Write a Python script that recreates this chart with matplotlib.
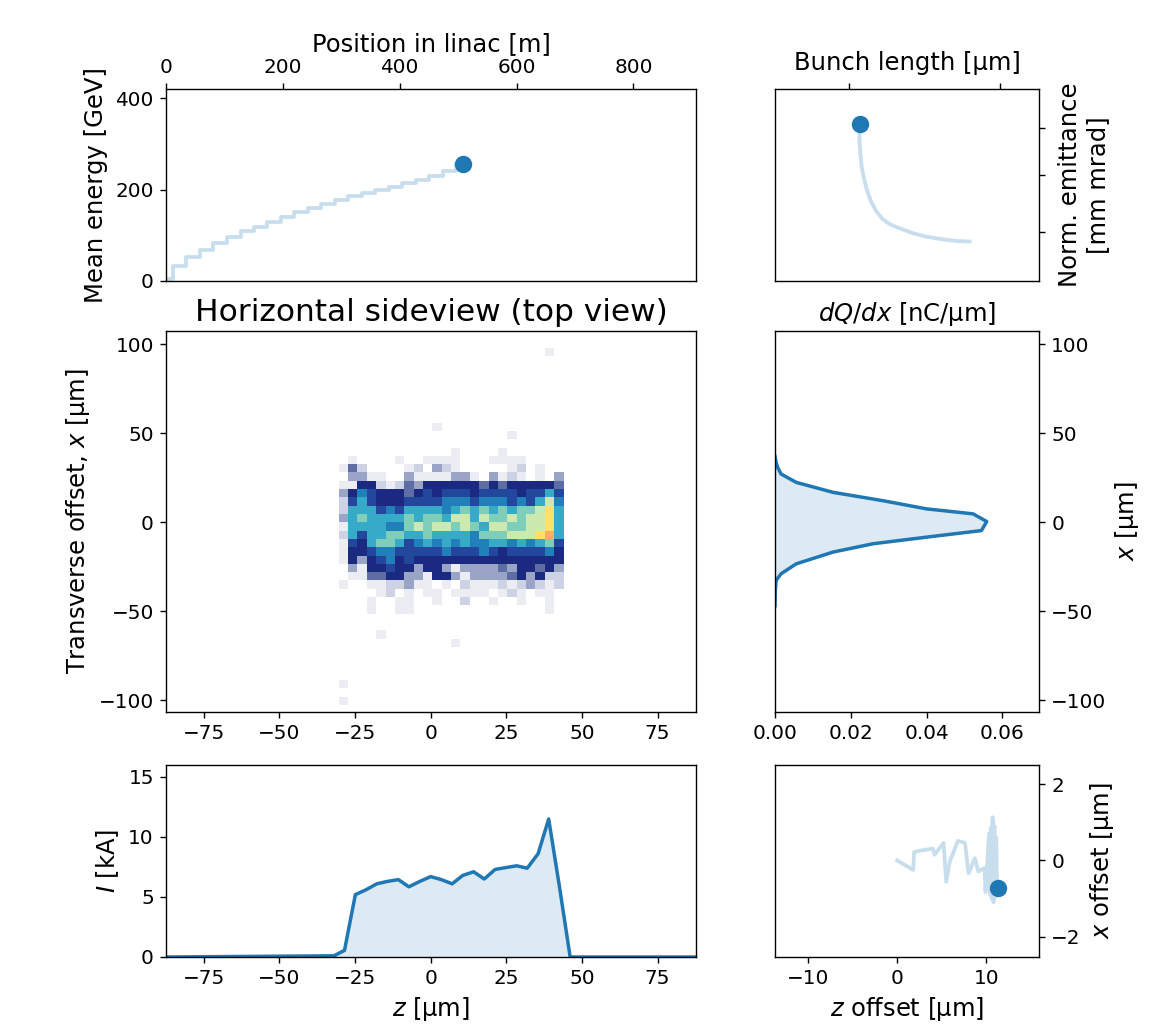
import numpy as np
import matplotlib.pyplot as plt
from matplotlib.colors import LinearSegmentedColormap
from matplotlib.ticker import NullFormatter, NullLocator

# energy gain along the linac (stage boundaries)
linac_pos = [0, 23, 46, 69, 92, 116, 139, 162, 185, 208, 231, 254, 277, 300,
             324, 347, 370, 393, 416, 439, 462, 485, 509]
mean_energy = [5, 32, 52, 68, 84, 97, 109, 119, 130, 140, 150, 160, 169, 177,
               186, 193, 199, 206, 214, 222, 230, 240, 257]

# bunch length vs emittance history
bunch_length = [18.0, 17.0, 16.0, 15.0, 14.2, 13.4, 12.7, 12.2, 11.8, 11.45, 11.2,
                11.0, 10.85, 10.75, 10.7, 10.7, 10.73]
emittance = [3.86, 3.87, 3.90, 3.94, 3.99, 4.06, 4.13, 4.22, 4.35, 4.52, 4.71,
             4.93, 5.16, 5.45, 5.73, 5.95, 6.10]

# centroid offset history
z_offset = [0.0, 1.8, 1.9, 2.7, 4.0, 4.2, 5.2, 5.5, 5.9, 6.8, 7.6, 8.0, 8.7, 9.1,
            9.8, 9.9, 10.3, 10.4, 10.5, 10.6, 10.7, 10.8, 10.9, 11.0, 11.1, 11.2, 11.3]
x_offset = [0.0, -0.25, 0.22, 0.26, 0.31, 0.15, 0.46, -0.56, -0.03, 0.51, 0.46, -0.34,
            0.06, -0.29, -0.2, -0.83, 0.7, -0.9, 0.86, -1.0, 1.13, -1.1, 0.9, -0.95,
            0.6, -0.9, -0.72]

# current profile
z_cur = [-87.5, -32.0, -28.5, -24.9, -21.4, -17.8, -14.3, -10.7, -7.2, -3.6, 0.0, 3.5,
         7.1, 10.6, 14.2, 17.7, 21.3, 24.8, 28.4, 31.9, 35.5, 39.0, 42.6, 46.1, 87.5]
current_kA = [0.0, 0.1, 0.55, 5.2, 5.6, 6.1, 6.3, 6.45, 5.85, 6.3, 6.7, 6.45,
              6.1, 6.8, 7.1, 6.5, 7.3, 7.45, 7.6, 7.4, 8.6, 11.5, 5.8, 0.0, 0.0]

# transverse charge profile
x_prof = [37.0, 33.5, 30.8, 27.1, 22.4, 16.8, 12.1, 7.5, 4.7, 0.4, -4.7, -8.4,
          -12.1, -16.8, -23.4, -29.0, -32.7, -38.0, -47.0]
dQdx = [0.0, 0.0003, 0.0007, 0.0016, 0.0056, 0.0153, 0.0285, 0.040, 0.0523,
        0.0559, 0.0545, 0.040, 0.0259, 0.0153, 0.0056, 0.0016, 0.0003, 0.0001, 0.0]

# side-view histogram, rows from x = +42 um down to x = -51 um (levels 0..C)
hist_rows = [
    "000000000000100001000000",
    "010000100111100011110000",
    "142000012032100000120100",
    "033110031111331031210103",
    "115521243555555454555554",
    "357655545656665666656686",
    "2686555666677767776768A7",
    "288867688887898989899AB8",
    "389888898998AA8A99A9AAB8",
    "18888779A9AA9A98AA99AAB8",
    "286889988988887999AAABC8",
    "165899867878787788787896",
    "155677666667666765666675",
    "153567565555555555555555",
    "031556553553133334355453",
    "011445533155313333453522",
    "100112231101021112123212",
    "000012010110111101210110",
    "000100110010020010010010",
    "000100110000000000000010",
]
outlier_z = [38.4, 3.2, 28.0, -18.0, 7.0, -29.0, -29.0]
outlier_x = [96.0, 52.0, 48.0, -65.0, -70.0, -92.0, -100.0]

z_edges = np.linspace(-30.4, 43.9, 25)
x_edges = 98.0 - 4.67 * np.arange(44)
counts = np.zeros((43, 24))
for i, row in enumerate(hist_rows):
    counts[12 + i] = [int(c, 16) for c in row]
for zz, xx in zip(outlier_z, outlier_x):
    r = int((98.0 - xx) / 4.67)
    c = int((zz - z_edges[0]) / (z_edges[1] - z_edges[0]))
    counts[r, c] += 1
counts = np.ma.masked_equal(counts, 0)

anchors = ["#ebedf3", "#cdd3e4", "#99a3c6", "#5e6ca4", "#1b2a80", "#22479c",
           "#2180b9", "#36aac6", "#7ccdba", "#cbe9b0", "#fbe06a", "#fcad62"]
cmap = LinearSegmentedColormap.from_list(
    "side", [(i / (len(anchors) - 1), c) for i, c in enumerate(anchors)])

plt.rcParams["xtick.labelsize"] = 11.5
plt.rcParams["ytick.labelsize"] = 11.5

blue = "tab:blue"
light = (31/255, 119/255, 180/255, 0.24)
LABEL = 14

W, H, DPI = 1158, 1030, 125
fig = plt.figure(figsize=(W / DPI, H / DPI), dpi=DPI)

lx, lw = 166 / W, 530 / W
rx, rw = 775 / W, 264 / W
top_y, top_h = 1 - 281 / H, 192 / H
mid_y, mid_h = 1 - 712 / H, 381 / H
bot_y, bot_h = 1 - 957 / H, 192 / H

# energy along linac
axE = fig.add_axes([lx, top_y, lw, top_h])
axE.plot(linac_pos, mean_energy, color=light, lw=2.2, drawstyle="steps-mid")
axE.plot(linac_pos[-1], mean_energy[-1], "o", color=blue, ms=9)
axE.set_xlim(0, 907)
axE.set_ylim(0, 420)
axE.set_yticks([0, 200, 400])
axE.xaxis.tick_top()
axE.xaxis.set_label_position("top")
axE.set_xlabel("Position in linac [m]", fontsize=LABEL)
axE.set_ylabel("Mean energy [GeV]", fontsize=LABEL)

# bunch length vs emittance
axB = fig.add_axes([rx, top_y, rw, top_h])
axB.plot(bunch_length, emittance, color=light, lw=2.2)
axB.plot(bunch_length[-1], emittance[-1], "o", color=blue, ms=9)
axB.set_yscale("log")
axB.set_xlim(5.1, 22.6)
axB.set_ylim(3.31, 6.99)
axB.set_xticks([10, 20])
axB.set_yticks([4, 5, 6])
axB.yaxis.set_minor_locator(NullLocator())
axB.xaxis.set_major_formatter(NullFormatter())
axB.yaxis.set_major_formatter(NullFormatter())
axB.yaxis.set_minor_formatter(NullFormatter())
axB.xaxis.tick_top()
axB.xaxis.set_label_position("top")
axB.yaxis.tick_right()
axB.yaxis.set_label_position("right")
axB.set_xlabel("Bunch length [µm]", fontsize=LABEL)
axB.set_ylabel("Norm. emittance\n[mm mrad]", fontsize=LABEL)

# side view histogram
axS = fig.add_axes([lx, mid_y, lw, mid_h])
axS.pcolormesh(z_edges, x_edges, counts, cmap=cmap, vmin=1, vmax=12)
axS.set_xlim(-87.5, 87.7)
axS.set_ylim(-106.7, 107.5)
axS.set_xticks([-75, -50, -25, 0, 25, 50, 75])
axS.set_yticks([-100, -50, 0, 50, 100])
axS.set_ylabel("Transverse offset, $x$ [µm]", fontsize=LABEL)
axS.set_title("Horizontal sideview (top view)", fontsize=18)

# transverse profile
axP = fig.add_axes([rx, mid_y, rw, mid_h])
axP.fill_betweenx(x_prof, 0, dQdx, color=blue, alpha=0.15, lw=0)
axP.plot(dQdx, x_prof, color=blue, lw=2)
axP.set_xlim(0, 0.0697)
axP.set_ylim(-106.7, 107.5)
axP.set_xticks([0, 0.02, 0.04, 0.06])
axP.set_yticks([-100, -50, 0, 50, 100])
axP.yaxis.tick_right()
axP.yaxis.set_label_position("right")
axP.set_ylabel("$x$ [µm]", fontsize=LABEL)
axP.set_title("$dQ/dx$ [nC/µm]", fontsize=LABEL)

# current profile
axI = fig.add_axes([lx, bot_y, lw, bot_h])
axI.fill_between(z_cur, 0, current_kA, color=blue, alpha=0.15, lw=0)
axI.plot(z_cur, current_kA, color=blue, lw=2)
axI.set_xlim(-87.5, 87.7)
axI.set_ylim(0, 16)
axI.set_xticks([-75, -50, -25, 0, 25, 50, 75])
axI.set_yticks([0, 5, 10, 15])
axI.set_xlabel("$z$ [µm]", fontsize=LABEL)
axI.set_ylabel("$I$ [kA]", fontsize=LABEL)

# centroid offsets
axO = fig.add_axes([rx, bot_y, rw, bot_h])
axO.plot(z_offset, x_offset, color=light, lw=2.2)
axO.plot(z_offset[-1], x_offset[-1], "o", color=blue, ms=9)
axO.set_xlim(-13.7, 15.9)
axO.set_ylim(-2.53, 2.5)
axO.set_xticks([-10, 0, 10])
axO.set_yticks([-2, 0, 2])
axO.yaxis.tick_right()
axO.yaxis.set_label_position("right")
axO.set_xlabel("$z$ offset [µm]", fontsize=LABEL)
axO.set_ylabel("$x$ offset [µm]", fontsize=LABEL)

fig.savefig("out.png", dpi=DPI)
